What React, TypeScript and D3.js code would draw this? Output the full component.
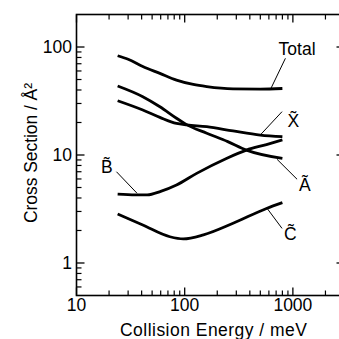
import React from "react";
import * as d3 from "d3";

const W = 339, H = 339;
const X_DOMAIN = [10, 3000];
const Y_DOMAIN = [0.5, 200];

const totalE = [24, 30, 41, 59, 84, 120, 160, 280, 500, 800];
const totalV = [83, 77, 66, 57, 49.4, 45, 43, 41, 40.8, 41.3];

const xE = [24, 41, 59, 84, 105, 160, 280, 500, 800];
const xV = [31.8, 26.1, 22.3, 19.6, 19, 18.3, 16.7, 15.3, 14.8];

const aE = [24, 41, 59, 84, 105, 160, 250, 372, 800];
const aV = [43.6, 34.7, 28, 21.9, 19, 15.9, 13.3, 11.1, 9.3];

const bE = [24, 35, 45, 60, 84, 129, 243, 372, 570, 800];
const bV = [4.35, 4.28, 4.27, 4.6, 5.27, 6.76, 9.3, 11.1, 12.5, 13.8];

const cE = [24, 41, 73, 97, 149, 280, 570, 800];
const cV = [2.84, 2.25, 1.75, 1.67, 1.82, 2.33, 3.2, 3.62];

const seriesList = [
  { name: "Total", e: totalE, v: totalV },
  { name: "X", e: xE, v: xV },
  { name: "A", e: aE, v: aV },
  { name: "B", e: bE, v: bV },
  { name: "C", e: cE, v: cV },
];

// annotations in data coordinates: label position, leader start, leader end
const annLabels = ["Total", "X\u0303", "\u00C3", "B\u0303", "C\u0303"];
const annLabelE = [1094, 1012, 1291, 19.1, 948];
const annLabelV = [84.3, 18.3, 4.67, 6.78, 1.63];
const annLine1E = [853, 794, 714, 23.4, 577];
const annLine1V = [78.6, 25.2, 9.12, 7.0, 3.21];
const annLine2E = [628, 508, 1094, 36.3, 794];
const annLine2V = [41.5, 15.6, 5.96, 4.42, 2.09];

const xMajor = [10, 100, 1000];
const xMinor = [20, 30, 40, 50, 60, 70, 80, 90, 200, 300, 400, 500, 600, 700, 800, 900, 2000];
const yMajor = [1, 10, 100];
const yMinor = [0.6, 0.7, 0.8, 0.9, 2, 3, 4, 5, 6, 7, 8, 9, 20, 30, 40, 50, 60, 70, 80, 90];
const xTickLabels = ["10", "100", "1000"];
const yTickLabels = ["1", "10", "100"];

const xLabel = "Collision Energy / meV";
const yLabel = "Cross Section / \u00C5\u00B2";

export default function App() {
  const x = d3.scaleLog().domain(X_DOMAIN).range([76.5, 344.5]);
  const y = d3.scaleLog().domain(Y_DOMAIN).range([295.5, 14.5]);
  const line = d3
    .line<[number, number]>()
    .x((d) => x(d[0]))
    .y((d) => y(d[1]))
    .curve(d3.curveMonotoneX);

  const font = "Liberation Sans, Arial, Helvetica, sans-serif";
  const x0 = x(X_DOMAIN[0]);
  const x1 = x(X_DOMAIN[1]);
  const y0 = y(Y_DOMAIN[0]);
  const y1 = y(Y_DOMAIN[1]);
  const MAJ = 8, MIN = 5;

  return (
    <svg
      width={W}
      height={H}
      style={{ position: "fixed", left: 0, top: 0, background: "#fff" }}
      fontFamily={font}
    >
      <rect x={0} y={0} width={W} height={H} fill="#fff" />
      {/* frame */}
      <rect x={x0} y={y1} width={x1 - x0} height={y0 - y1} fill="none" stroke="#000" strokeWidth={1.6} />
      {/* x ticks bottom and top */}
      {xMajor.map((t) => (
        <g key={"xM" + t}>
          <line x1={x(t)} x2={x(t)} y1={y0} y2={y0 - MAJ} stroke="#000" strokeWidth={1.3} />
          <line x1={x(t)} x2={x(t)} y1={y1} y2={y1 + MAJ} stroke="#000" strokeWidth={1.3} />
        </g>
      ))}
      {xMinor.map((t) => (
        <g key={"xm" + t}>
          <line x1={x(t)} x2={x(t)} y1={y0} y2={y0 - MIN} stroke="#000" strokeWidth={1.2} />
          <line x1={x(t)} x2={x(t)} y1={y1} y2={y1 + MIN} stroke="#000" strokeWidth={1.2} />
        </g>
      ))}
      {/* y ticks left and right */}
      {yMajor.map((t) => (
        <g key={"yM" + t}>
          <line x1={x0} x2={x0 + MAJ} y1={y(t)} y2={y(t)} stroke="#000" strokeWidth={1.3} />
          <line x1={x1} x2={x1 - MAJ} y1={y(t)} y2={y(t)} stroke="#000" strokeWidth={1.3} />
        </g>
      ))}
      {yMinor.map((t) => (
        <g key={"ym" + t}>
          <line x1={x0} x2={x0 + MIN} y1={y(t)} y2={y(t)} stroke="#000" strokeWidth={1.2} />
          <line x1={x1} x2={x1 - MIN} y1={y(t)} y2={y(t)} stroke="#000" strokeWidth={1.2} />
        </g>
      ))}
      {/* tick labels */}
      {xMajor.map((t, i) => (
        <text key={"xl" + t} x={x(t)} y={311} textAnchor="middle" fontSize={17.5}>
          {xTickLabels[i]}
        </text>
      ))}
      {yMajor.map((t, i) => (
        <text key={"yl" + t} x={72} y={y(t) + 6.3} textAnchor="end" fontSize={17.5}>
          {yTickLabels[i]}
        </text>
      ))}
      {/* axis labels */}
      <text x={213.5} y={336} textAnchor="middle" fontSize={17.5} textLength={187} lengthAdjust="spacing">
        {xLabel}
      </text>
      <text
        transform={`translate(36.5,153) rotate(-90)`}
        textAnchor="middle"
        fontSize={17.5}
        textLength={140}
        lengthAdjust="spacing"
      >
        {yLabel}
      </text>
      {/* curves */}
      {seriesList.map((s) => (
        <path
          key={s.name}
          d={line(s.e.map((e, i) => [e, s.v[i]] as [number, number])) || ""}
          fill="none"
          stroke="#000"
          strokeWidth={2.8}
          strokeLinecap="butt"
        />
      ))}
      {/* annotations */}
      {annLabels.map((lab, i) => (
        <g key={"a" + i}>
          <line
            x1={x(annLine1E[i])}
            y1={y(annLine1V[i])}
            x2={x(annLine2E[i])}
            y2={y(annLine2V[i])}
            stroke="#000"
            strokeWidth={1}
          />
          <text x={x(annLabelE[i])} y={y(annLabelV[i])} textAnchor="middle" fontSize={17.5}>
            {lab}
          </text>
        </g>
      ))}
    </svg>
  );
}
